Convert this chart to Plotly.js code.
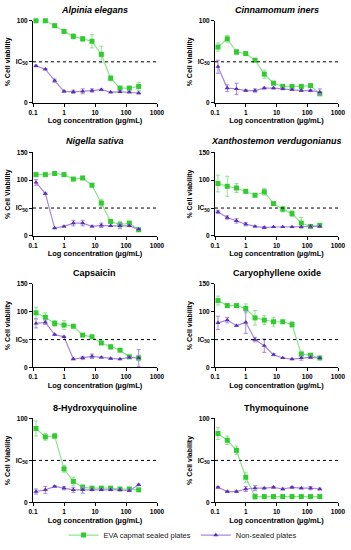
<!DOCTYPE html>
<html><head><meta charset="utf-8">
<script src="https://cdn.plot.ly/plotly-3.0.1.min.js"></script>
<style>html,body{margin:0;padding:0;background:#fff}#chart{width:351px;height:550px}</style>
</head><body><div id="chart"></div>
<script>
// Concentrations (µg/mL)
const conc = [0.125, 0.25, 0.5, 1, 2, 4, 8, 16, 32, 64, 128, 256];

const panelTitles = ["Alpinia elegans", "Cinnamomum iners", "Nigella sativa", "Xanthostemon verdugonianus",
                     "Capsaicin", "Caryophyllene oxide", "8-Hydroxyquinoline", "Thymoquinone"];
const titleItalic = [true, true, true, true, false, false, false, false];
const yTitles = ["% Cell viability", "% Cell viability", "% Cell Viability", "% Cell viability",
                 "% Cell viability", "% Cell viability", "% Cell Viability", "% Cell viability"];
const yMax = [100, 100, 150, 150, 150, 150, 100, 100];
const seriesNames = ["EVA capmat sealed plates", "Non-sealed plates"];

// EVA capmat sealed plates (mean, error)
const alpiniaSealed     = [100, 100, 94, 87, 81, 78, 75, 59, 30, 18, 18, 20];
const alpiniaSealedErr  = [1, 1, 2, 2, 3, 3, 8, 10, 3, 2, 2, 5];
const cinnamSealed      = [68, 78, 62, 60, 52, 35, 24, 20, 20, 20, 21, 11];
const cinnamSealedErr   = [5, 4, 3, 2, 1, 5, 1, 2, 2, 1, 1, 2];
const nigellaSealed     = [110, 110, 112, 110, 102, 104, 91, 59, 26, 20, 23, 11];
const nigellaSealedErr  = [2, 2, 2, 2, 2, 2, 2, 6, 3, 6, 2, 1];
const xanthoSealed      = [94, 89, 86, 80, 73, 79, 58, 48, 40, 23, 17, 19];
const xanthoSealedErr   = [15, 18, 8, 3, 3, 6, 2, 5, 5, 10, 2, 3];
const capsSealed        = [98, 90, 79, 76, 74, 58, 55, 44, 37, 31, 19, 17];
const capsSealedErr     = [10, 8, 5, 8, 3, 2, 2, 3, 4, 2, 3, 5];
const caryoSealed       = [120, 111, 111, 106, 89, 85, 82, 82, 77, 24, 22, 17];
const caryoSealedErr    = [8, 3, 2, 8, 13, 8, 8, 2, 5, 5, 2, 1];
const hydroxySealed     = [88, 78, 79, 40, 25, 18, 17, 17, 17, 16, 16, 15];
const hydroxySealedErr  = [9, 4, 3, 4, 5, 3, 2, 1, 1, 1, 1, 1];
const thymoSealed       = [82, 74, 62, 30, 7, 7, 7, 7, 7, 7, 7, 7];
const thymoSealedErr    = [7, 5, 5, 6, 3, 1, 1, 1, 1, 1, 1, 1];

// Non-sealed plates (mean, error)
const alpiniaOpen       = [45, 41, 27, 14, 13.5, 14, 15, 16, 13, 13.5, 13, 12];
const alpiniaOpenErr    = [1, 1, 2, 1, 2, 3, 2, 1, 1, 1, 1, 1];
const cinnamOpen        = [44, 18, 17, 15, 15, 18, 18, 17, 16, 15, 15, 13];
const cinnamOpenErr     = [8, 4, 7, 1, 2, 1, 1, 1, 1, 1, 1, 4];
const nigellaOpen       = [96, 76, 14, 17, 23, 23, 17, 19, 18, 18, 18, 12];
const nigellaOpenErr    = [5, 1, 1, 1, 5, 5, 1, 4, 1, 5, 1, 1];
const xanthoOpen        = [43, 33, 27, 21, 17, 15, 16, 16, 16, 16, 17, 17];
const xanthoOpenErr     = [3, 3, 4, 3, 1, 2, 1, 1, 1, 1, 1, 1];
const capsOpen          = [79, 81, 59, 55, 15, 17, 20, 18, 16, 15, 18, 17];
const capsOpenErr       = [8, 4, 1, 1, 1, 3, 4, 1, 1, 1, 1, 15];
const caryoOpen         = [80, 85, 75, 81, 50, 39, 23, 17, 15, 17, 18, 17];
const caryoOpenErr      = [12, 5, 1, 20, 4, 12, 2, 1, 1, 4, 2, 1];
const hydroxyOpen       = [13, 15, 19, 17, 15, 15, 15, 15, 15, 15, 14, 21];
const hydroxyOpenErr    = [3, 4, 1, 2, 3, 4, 1, 1, 1, 1, 1, 1];
const thymoOpen         = [18, 13, 13, 16, 17, 17, 18, 16, 18, 17, 17, 16];
const thymoOpenErr      = [1, 1, 1, 3, 3, 1, 1, 1, 1, 1, 2, 1];

const sealed    = [alpiniaSealed, cinnamSealed, nigellaSealed, xanthoSealed, capsSealed, caryoSealed, hydroxySealed, thymoSealed];
const sealedErr = [alpiniaSealedErr, cinnamSealedErr, nigellaSealedErr, xanthoSealedErr, capsSealedErr, caryoSealedErr, hydroxySealedErr, thymoSealedErr];
const open      = [alpiniaOpen, cinnamOpen, nigellaOpen, xanthoOpen, capsOpen, caryoOpen, hydroxyOpen, thymoOpen];
const openErr   = [alpiniaOpenErr, cinnamOpenErr, nigellaOpenErr, xanthoOpenErr, capsOpenErr, caryoOpenErr, hydroxyOpenErr, thymoOpenErr];

const xTicks = [0.1, 1, 10, 100, 1000];
const xTickText = ["0.1", "1", "10", "100", "1000"];

// Layout geometry (pixels)
const W = 351, H = 550;
const colPx = [[33, 157], [215, 338]];
const rowPx = [[21, 104], [154, 238.5], [287, 371.5], [423, 508]];

const FONT = "Liberation Sans, Arial, sans-serif";
const greenM = "#2fcb2f", greenL = "#8ee38e";
const purpM = "#5b2fb0", purpL = "#a688e0";

const traces = [];
const layout = {
  width: W, height: H,
  margin: {l: 0, r: 0, t: 0, b: 0},
  paper_bgcolor: "#fff", plot_bgcolor: "#fff",
  font: {family: FONT, color: "#000"},
  showlegend: true,
  legend: {orientation: "h", x: 0.52, xanchor: "center", y: 1 - 541 / H, yanchor: "middle",
           font: {family: FONT, size: 7.5, color: "#222"}, itemwidth: 30, tracegroupgap: 0},
  annotations: [], shapes: []
};

for (let i = 0; i < 8; i++) {
  const row = Math.floor(i / 2), col = i % 2;
  const n = i === 0 ? "" : String(i + 1);
  const xa = "x" + n, ya = "y" + n;
  const xd = [colPx[col][0] / W, colPx[col][1] / W];
  const yd = [1 - rowPx[row][1] / H, 1 - rowPx[row][0] / H];

  traces.push({
    x: conc, y: sealed[i], xaxis: xa, yaxis: ya, type: "scatter", mode: "lines+markers",
    name: seriesNames[0], legendgroup: "s", showlegend: i === 0, cliponaxis: false,
    line: {color: greenL, width: 1.2},
    marker: {symbol: "square", size: 5, color: greenM},
    error_y: {type: "data", array: sealedErr[i], visible: true, color: greenL, thickness: 1, width: 2}
  });
  traces.push({
    x: conc, y: open[i], xaxis: xa, yaxis: ya, type: "scatter", mode: "lines+markers",
    name: seriesNames[1], legendgroup: "o", showlegend: i === 0, cliponaxis: false,
    line: {color: purpL, width: 1.2},
    marker: {symbol: "triangle-up", size: 4.5, color: purpM},
    error_y: {type: "data", array: openErr[i], visible: true, color: purpL, thickness: 1, width: 2}
  });

  const yvals = yMax[i] === 150 ? [0, 50, 100, 150] : [0, 50, 100];
  const ytext = yvals.map(v => v === 50 ? "IC<sub><span style='font-size:5px'>50</span></sub>" : String(v));

  layout["xaxis" + n] = {
    domain: xd, anchor: ya, type: "log", range: [-1, 3],
    tickvals: xTicks, ticktext: xTickText,
    showline: true, linecolor: "#000", linewidth: 1, ticks: "outside", ticklen: 3, tickwidth: 1, tickcolor: "#000",
    showgrid: false, zeroline: false,
    tickfont: {family: FONT, size: 6.5, weight: "bold", color: "#000"},
    title: {text: "Log concentration (µg/mL)", font: {family: FONT, size: 7.5, weight: "bold", color: "#000"}, standoff: 3}
  };
  layout["yaxis" + n] = {
    domain: yd, anchor: xa, range: [0, yMax[i]],
    tickvals: yvals, ticktext: ytext,
    showline: true, linecolor: "#000", linewidth: 1, ticks: "outside", ticklen: 3, tickwidth: 1, tickcolor: "#000",
    showgrid: false, zeroline: false,
    tickfont: {family: FONT, size: 6.5, weight: "bold", color: "#000"},
    title: {text: yTitles[i], font: {family: FONT, size: 7, weight: "bold", color: "#000"}, standoff: 4}
  };

  layout.shapes.push({type: "line", xref: xa + " domain", yref: ya, x0: 0, x1: 1, y0: 50, y1: 50,
                      line: {color: "#000", width: 1, dash: "dot"}});

  const t = titleItalic[i] ? "<b><i>" + panelTitles[i] + "</i></b>" : "<b>" + panelTitles[i] + "</b>";
  layout.annotations.push({text: t, xref: "paper", yref: "paper",
    x: (xd[0] + xd[1]) / 2, y: yd[1] + 11 / H, xanchor: "center", yanchor: "middle", showarrow: false,
    font: {family: FONT, size: 9, color: "#000"}});
}

Plotly.newPlot("chart", traces, layout, {staticPlot: true, displayModeBar: false});
</script></body></html>
